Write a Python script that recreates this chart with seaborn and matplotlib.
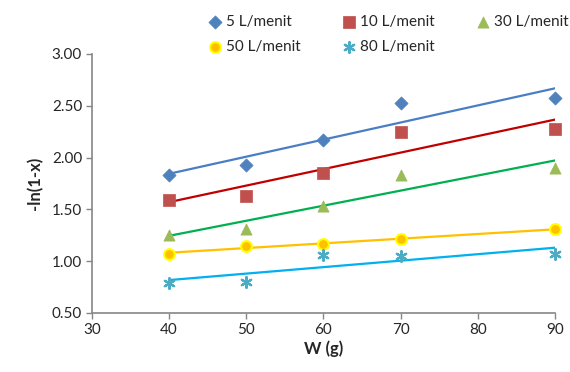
import numpy as np
import pandas as pd
import matplotlib
matplotlib.use("Agg")
import matplotlib.pyplot as plt
import seaborn as sns

# data
w = [40, 50, 60, 70, 90]
y_5 = [1.83, 1.93, 2.17, 2.53, 2.57]
y_10 = [1.59, 1.63, 1.85, 2.25, 2.28]
y_30 = [1.25, 1.31, 1.53, 1.83, 1.90]
y_50 = [1.07, 1.15, 1.16, 1.21, 1.31]
y_80 = [0.79, 0.80, 1.06, 1.05, 1.07]
labels = ["5 L/menit", "10 L/menit", "30 L/menit", "50 L/menit", "80 L/menit"]

series = [y_5, y_10, y_30, y_50, y_80]
df = pd.concat([pd.DataFrame({"W": w, "y": s, "flow": lab}) for s, lab in zip(series, labels)])

sns.set_style("white")
plt.rcParams["font.family"] = ["Lato", "DejaVu Sans"]

marker_col = ["#4F81BD", "#C0504D", "#9BBB59", "#FFC000", "#4BACC6"]
edge_col = ["#4F81BD", "#C0504D", "#9BBB59", "#FFFF00", "#4BACC6"]
line_col = ["#4A7EC4", "#C00000", "#00B050", "#FFC000", "#00B0F0"]
markers = ["D", "s", "^", "o", (6, 2, 0)]
sizes = [45, 70, 65, 60, 60]

fig = plt.figure(figsize=(5.7, 3.72), dpi=100)
ax = fig.add_axes([0.161, 0.159, 0.813, 0.696])

handles = []
for i, lab in enumerate(labels):
    d = df[df["flow"] == lab]
    sns.regplot(data=d, x="W", y="y", ax=ax, ci=None, scatter=False, truncate=True,
                line_kws={"color": line_col[i], "lw": 1.6, "zorder": 2})
    if i == 4:
        h = ax.scatter(d["W"], d["y"], marker=markers[i], s=sizes[i], c=marker_col[i],
                       linewidths=1.6, zorder=3, label=lab, clip_on=False)
    else:
        h = ax.scatter(d["W"], d["y"], marker=markers[i], s=sizes[i], color=marker_col[i],
                       edgecolors=edge_col[i], linewidths=1.5 if i == 3 else 0.5, zorder=3,
                       label=lab, clip_on=False)
    handles.append(h)

ax.set_xlim(30, 90)
ax.set_ylim(0.5, 3.0)
ax.set_xticks(np.arange(30, 91, 10))
ax.set_yticks(np.arange(0.5, 3.01, 0.5))
ax.yaxis.set_major_formatter(matplotlib.ticker.FormatStrFormatter("%.2f"))
ax.tick_params(axis="both", labelsize=11, length=4, width=1, color="#868686", direction="out",
               bottom=True, left=True, pad=3)
for sp in ["top", "right"]:
    ax.spines[sp].set_visible(False)
for sp in ["left", "bottom"]:
    ax.spines[sp].set_color("#868686")
    ax.spines[sp].set_linewidth(1.2)

ax.set_xlabel("W (g)", fontsize=12, fontweight="bold", labelpad=3)
ax.set_ylabel("-ln(1-x)", fontsize=12, fontweight="bold", labelpad=6)

# legend fills column-first, so reorder to get row-wise layout
order = [0, 3, 1, 4, 2]
fig.legend(handles=[handles[k] for k in order], labels=[labels[k] for k in order],
           ncol=3, frameon=False, fontsize=11,
           loc="upper left", bbox_to_anchor=(0.345, 0.985), handletextpad=0.1,
           columnspacing=2.6, labelspacing=0.75, handlelength=1.2, borderaxespad=0.2)

fig.savefig("out.png", dpi=100)
